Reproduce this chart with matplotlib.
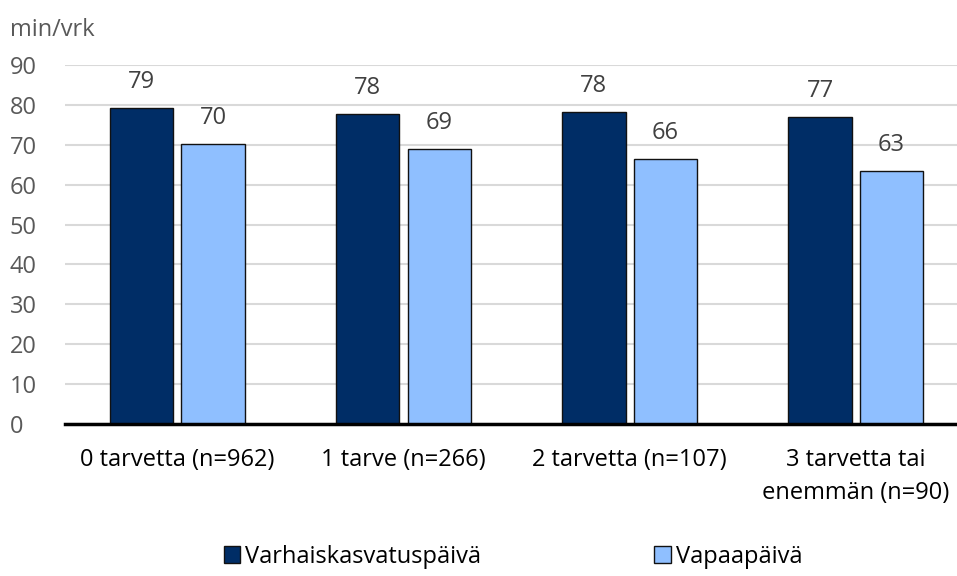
import numpy as np
import matplotlib.pyplot as plt

plt.rcParams['font.family'] = ['Open Sans', 'DejaVu Sans']

categories = ['0 tarvetta (n=962)', '1 tarve (n=266)', '2 tarvetta (n=107)',
              '3 tarvetta tai\nenemmän (n=90)']
varhais = [79.2, 77.7, 78.2, 76.9]
vapaa = [70.2, 68.9, 66.4, 63.4]
series_names = ['Varhaiskasvatuspäivä', 'Vapaapäivä']
yticks = [0, 10, 20, 30, 40, 50, 60, 70, 80, 90]

dark = '#002D66'
light = '#8FBFFF'
fs = 17

fig = plt.figure(figsize=(9.57, 5.76), dpi=100)
ax = fig.add_axes([65 / 957, 1 - 424 / 576, 1 - 65 / 957, (424 - 65) / 576])

x = np.arange(len(categories))
w = 0.28
off = 0.158
b1 = ax.bar(x - off, varhais, w, color=dark, edgecolor='#111111', linewidth=1, label=series_names[0], zorder=3)
b2 = ax.bar(x + off, vapaa, w, color=light, edgecolor='#111111', linewidth=1, label=series_names[1], zorder=3)

for bars in (b1, b2):
    ax.bar_label(bars, fmt='%.0f', padding=10, fontsize=fs, color='#404040')

ax.set_ylim(0, 90)
ax.set_xlim(-0.496, 3.447)
ax.set_yticks(yticks)
ax.set_xticks(x)
ax.set_xticklabels(categories, fontsize=fs, color='black', linespacing=1.5)
ax.tick_params(axis='y', labelsize=fs, labelcolor='#595959', length=0, pad=40)
ax.tick_params(axis='x', length=0, pad=17)
for lbl in ax.get_yticklabels():
    lbl.set_horizontalalignment('left')
ax.grid(axis='y', color='#D9D9D9', linewidth=1.5, zorder=0)
for s in ['top', 'right', 'left']:
    ax.spines[s].set_visible(False)
ax.spines['bottom'].set_linewidth(2.5)
ax.spines['bottom'].set_color('black')
ax.spines['bottom'].set_zorder(4)

fig.text(10 / 957, 1 - 30 / 576, 'min/vrk', fontsize=fs, color='#595959', va='center', ha='left')

fig.legend(loc='center', bbox_to_anchor=(0.536, 1 - 557 / 576), ncol=2, frameon=False,
           fontsize=fs, handlelength=0.7, handleheight=0.7, handletextpad=0.2,
           columnspacing=7.35)

fig.savefig('out.png', dpi=100)
